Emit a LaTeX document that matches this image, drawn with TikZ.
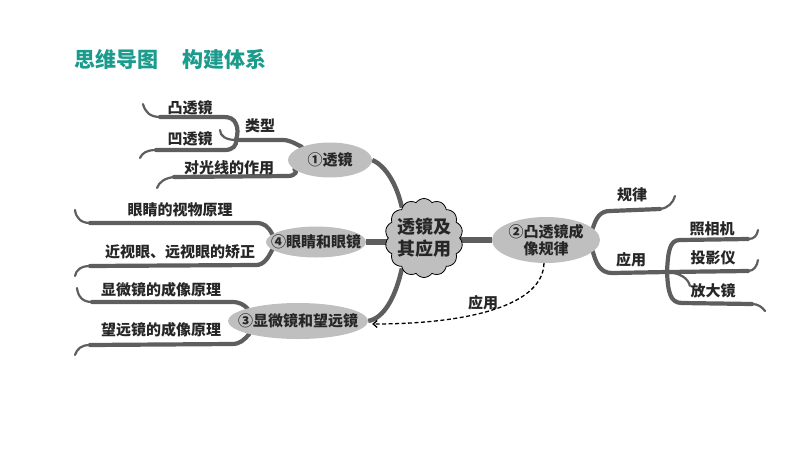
\documentclass[tikz,border=0pt]{standalone}
\usepackage{fontspec}
\setmainfont{Noto Sans CJK SC}
\usetikzlibrary{shapes.geometric,shapes.symbols,arrows.meta,backgrounds}
\definecolor{brgray}{HTML}{5E5E5E}
\definecolor{ellfill}{HTML}{BFBFBF}
\definecolor{titlecol}{HTML}{1A9B8C}
\begin{document}
\begin{tikzpicture}[x=1pt,y=-1pt,
  ell/.style={ellipse, fill=ellfill, inner sep=0pt},
  ntxt/.style={font=\bfseries\fontsize{15}{17}\selectfont, text=black!85, inner sep=0pt},
  leaf/.style={font=\bfseries\fontsize{15}{17}\selectfont, text=black!85, inner sep=0pt},
  br/.style={draw=brgray, line width=4.2pt, line cap=round},
  brtip/.style={draw=brgray, line width=2.2pt, line cap=round},
  conn/.style={draw=brgray, line width=4.5pt},
  bar/.style={draw=brgray, line width=6pt},
]
\useasboundingbox (0,0) rectangle (800,450);

% title
\node[anchor=west, inner sep=0pt, font=\bfseries\fontsize{21}{23}\selectfont, text=titlecol] (title) at (74,59) {思维导图\hspace{24pt}构建体系};

% central cloud
\node[cloud, cloud puffs=14, cloud puff arc=110, cloud ignores aspect, minimum width=78pt, minimum height=79pt, draw=black, fill=ellfill, line width=0.8pt, inner sep=0pt] (c) at (424,238) {};
\node[inner sep=0pt, align=center, font=\bfseries\fontsize{18}{22}\selectfont, text=black!85] (ct) at (c) {透镜及\\其应用};

% main nodes
\node[ell, minimum width=84pt, minimum height=35pt] (n1) at (330,160) {};
\node[ntxt] (t1) at (n1) {①透镜};
\node[ell, minimum width=100pt, minimum height=31pt] (n4) at (316,242) {};
\node[ntxt] (t4) at (n4) {④眼睛和眼镜};
\node[ell, minimum width=140pt, minimum height=36pt] (n3) at (298,321) {};
\node[ntxt] (t3) at (n3) {③显微镜和望远镜};
\node[ell, minimum width=108pt, minimum height=46pt] (n2) at (546,240) {};
\node[ntxt, align=center] (t2) at (n2) {②凸透镜成\\像规律};

% leaf labels
\node[leaf] (l11) at (190,108) {凸透镜};
\node[leaf] (l12) at (190,139) {凹透镜};
\node[leaf] (l1a) at (260,126) {类型};
\node[leaf] (l13) at (229,168) {对光线的作用};
\node[leaf] (l41) at (180,210) {眼睛的视物原理};
\node[leaf] (l42) at (180,252) {近视眼、远视眼的矫正};
\node[leaf] (l31) at (161,290) {显微镜的成像原理};
\node[leaf] (l32) at (161,330) {望远镜的成像原理};
\node[leaf] (l21) at (632,195) {规律};
\node[leaf] (l2a) at (631,260) {应用};
\node[leaf] (l22) at (712,229) {照相机};
\node[leaf] (l23) at (713,258) {投影仪};
\node[leaf] (l24) at (713,291) {放大镜};
\node[leaf] (lap) at (483,303) {应用};

\coordinate (jt) at (236,140);
\coordinate (jr) at (667,272);

\begin{scope}[on background layer]
  % cloud connectors
  \draw[conn] (n1.east) .. controls (386,166) and (397,185) .. (c.126);
  \draw[conn] (c.234) .. controls (396,295) and (385,318) .. (n3.east);
  \draw[bar] (n4.east) -- (c.center |- n4.east);
  \draw[bar] (c.center |- n2.west) -- (n2.west);

  % 类型 branch
  \draw[br] (n1.155) .. controls (294,143) and (290,140) .. (282,140) -- (jt);
  \draw[brtip] (jt) .. controls (226,140) and (220,136) .. (220,130);
  % 凸透镜
  \draw[br] (jt) .. controls (238,134) and (238,128) .. (236,124) .. controls (234,119) and (230,117) .. (224,117) -- (160,117);
  \draw[brtip] (160,117) .. controls (150,117) and (145,112) .. (143,104);
  % 凹透镜
  \draw[br] (jt) .. controls (237,145) and (233,150) .. (225,150) -- (156,150);
  \draw[brtip] (156,150) .. controls (147,150) and (142,153) .. (140,158);
  % 对光线的作用
  \draw[br] (n1.195) .. controls (298,170) and (296,176) .. (288,176) -- (174,177);
  \draw[brtip] (174,177) .. controls (165,178) and (159,182) .. (157,188);

  % 眼睛的视物原理
  \draw[br] (n4.170) .. controls (268,226) and (264,223) .. (256,223) -- (90,223);
  \draw[brtip] (90,223) .. controls (81,223) and (76,218) .. (75,210);
  % 近视眼、远视眼的矫正
  \draw[br] (n4.190) .. controls (268,258) and (264,265) .. (256,265) -- (90,266);
  \draw[brtip] (90,266) .. controls (81,266) and (76,270) .. (75,276);

  % 显微镜的成像原理
  \draw[br] (n3.166) .. controls (244,305) and (240,302) .. (232,302) -- (92,302);
  \draw[brtip] (92,302) .. controls (83,302) and (78,297) .. (77,288);
  % 望远镜的成像原理
  \draw[br] (n3.195) .. controls (244,340) and (240,344) .. (232,344) -- (90,345);
  \draw[brtip] (90,345) .. controls (81,345) and (77,349) .. (75,355);

  % 规律
  \draw[br] (n2.14) .. controls (596,218) and (600,211) .. (610,211) -- (660,209);
  \draw[brtip] (660,209) .. controls (668,208) and (673,203) .. (675,196);
  % 应用 (right)
  \draw[br] (n2.-14) .. controls (596,263) and (600,273) .. (612,273) -- (jr);
  \draw[brtip] (jr) .. controls (680,273) and (688,278) .. (690,286);
  % 照相机
  \draw[br] (jr) .. controls (668,250) and (670,240) .. (680,240) -- (748,239);
  \draw[brtip] (748,239) .. controls (754,239) and (757,236) .. (758,230);
  % 投影仪
  \draw[br] (jr) -- (748,271);
  \draw[brtip] (748,271) .. controls (754,271) and (757,266) .. (758,260);
  % 放大镜
  \draw[br] (jr) .. controls (668,292) and (670,303) .. (682,303) -- (752,304);
  \draw[brtip] (752,304) .. controls (758,304) and (762,307) .. (765,311);
\end{scope}

% dashed application arrow
\draw[line width=1.3pt, dash pattern=on 4pt off 2.5pt, -{Straight Barb[length=4pt,width=7pt]}] (n2.265) .. controls (543,305) and (470,324) .. ([shift={(4,3)}]n3.east);
\end{tikzpicture}
\end{document}
